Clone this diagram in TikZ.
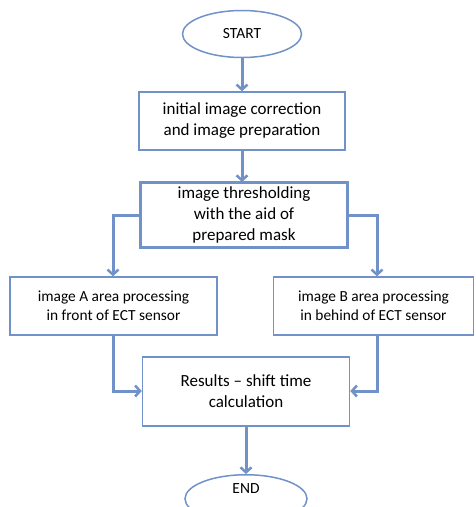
\documentclass[tikz,border=0pt]{standalone}
\usepackage{fontspec}
\setmainfont{Carlito}
\usetikzlibrary{arrows.meta,shapes.geometric}
\definecolor{lineblue}{RGB}{112,146,200}
\begin{document}
\begin{tikzpicture}[x=1pt,y=-1pt,
  box/.style={draw=lineblue,line width=1.5pt,fill=white,align=center,inner sep=0pt},
  oval/.style={draw=lineblue,line width=1.5pt,ellipse,inner sep=0pt},
  conn/.style={draw=lineblue,line width=3pt,-{Straight Barb[length=5pt,width=11pt,line width=2.5pt]}},
  big/.style={font=\fontsize{17}{21}\selectfont},
  small/.style={font=\fontsize{15.4}{19}\selectfont},
  ovaltext/.style={font=\fontsize{15.5}{18}\selectfont}]
\useasboundingbox (0,0) rectangle (475,507);
\begin{scope}
\clip (0,0) rectangle (475,507);
\node[oval,minimum width=119pt,minimum height=47pt,ovaltext] (start) at (242,34) {START};
\node[box,big,minimum width=206pt,minimum height=58pt] (b1) at (242,121) {initial image correction\\and image preparation};
\node[box,big,line width=2.5pt,minimum width=207pt,minimum height=65pt] (b2) at (244,215) {image thresholding\\with the aid of\\prepared mask};
\node[box,small,minimum width=207pt,minimum height=58pt] (ba) at (113.5,306) {image A area processing\\in front of ECT sensor};
\node[box,small,minimum width=200pt,minimum height=58pt] (bb) at (373.5,306) {image B area processing\\in behind of ECT sensor};
\node[box,big,minimum width=207pt,minimum height=69pt] (res) at (246,391.5) {Results -- shift time\\calculation};
\node[oval,minimum width=122pt,minimum height=48pt,anchor=north] (end) at (246,474) {};
\node[ovaltext] (endt) at (246,489) {END};
\path[conn] (start.south) -- (start.south |- b1.north);
\path[conn] (b1.south -| 242,0) -- (242,182);
\coordinate (la) at (113,215);
\coordinate (ra) at (377,215);
\path[conn] (b2.west) -- (la) -- (la |- ba.north);
\path[conn] (b2.east) -- (ra) -- (ra |- bb.north);
\coordinate (lb) at (113,391);
\coordinate (rb) at (377,391);
\path[conn] (la |- ba.south) -- (lb) -- (lb -| res.west);
\path[conn] (ra |- bb.south) -- (rb) -- (rb -| res.east);
\path[conn] (res.south) -- (end.north);
\end{scope}
\end{tikzpicture}
\end{document}
